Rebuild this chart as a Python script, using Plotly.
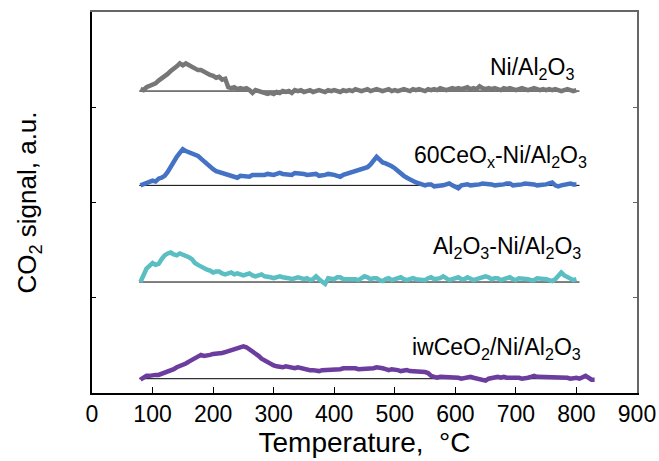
import plotly.graph_objects as go

temps = list(range(80, 805, 5))
temps_iw = list(range(80, 835, 5))

ni_al2o3 = [2, 1, 4, 5, 7, 8, 11, 13, 16, 18, 21, 23, 26, 29, 27, 29, 27, 25, 24, 22,
            22, 20, 19, 17, 16, 14, 15, 12, 13, 4, 3, 4, 2, 3, 2, 3, 1, -2, 1, 0,
            -1, -2, -3, -2, -3, -1, -2, 0, -1, 0, -2, 1, 0, 1, -1, 0, 1, -1, 0, 1,
            0, -1, 1, 0, 1, 0, -1, 1, 0, 1, 0, 2, 1, 0, 1, 2, 0, 1, 2, 1,
            0, 1, 2, 0, 1, 0, 1, 2, 1, 0, 2, 1, 2, 1, 0, 2, 1, 2, 1, 3,
            2, 1, 2, 3, 2, 3, 2, 3, 4, 2, 3, 2, 5, 3, 2, 3, 2, 3, 2, 1,
            3, 2, 3, 2, 1, 2, 3, 2, 1, 2, 3, 2, 1, 2, 1, 2, 1, 2, 1, 0,
            1, 2, 1, 0, 1]
ceox_ni = [0, 1, 2, 3, 5, 4, 7, 8, 10, 14, 20, 25, 30, 34, 38, 36, 35, 34, 33, 31,
           28, 25, 22, 19, 17, 15, 14, 13, 12, 10, 9, 8, 8, 10, 10, 9, 9, 11, 11, 10,
           10, 11, 12, 11, 11, 12, 13, 12, 12, 11, 11, 13, 13, 12, 12, 11, 11, 12, 12, 10,
           10, 11, 12, 12, 11, 10, 9, 11, 12, 12, 13, 14, 15, 16, 17, 19, 22, 26, 30, 27,
           24, 23, 22, 20, 18, 15, 12, 10, 8, 6, 4, 3, 2, 1, 0, 1, 1, -1, -1, 0,
           0, 1, 2, 0, -2, -3, 0, 1, 1, 0, 0, 1, 1, 2, 2, 1, 1, 0, 0, 1,
           1, 2, 2, 0, 0, 1, 1, 2, 2, 1, 1, 0, 0, 1, 1, 2, 3, 0, -1, 0,
           1, 1, 2, 1, 1]
al2o3_ni = [0, 6, 14, 17, 20, 18, 19, 24, 28, 30, 31, 29, 28, 30, 29, 27, 26, 24, 20, 18,
            16, 14, 13, 12, 10, 11, 11, 9, 8, 9, 10, 8, 9, 8, 7, 8, 9, 7, 6, 7,
            8, 6, 6, 5, 4, 5, 6, 5, 5, 4, 3, 4, 5, 4, 3, 4, 2, 3, 6, 3,
            0, -2, 4, 3, 3, 5, 5, 3, 3, 4, 4, 3, 2, 4, 6, 5, 3, 4, 4, 2,
            1, 3, 4, 2, 3, 4, 5, 3, 2, 3, 4, 3, 3, 2, 2, 4, 5, 3, 3, 4,
            6, 4, 2, 3, 4, 5, 3, 3, 5, 4, 2, 3, 4, 4, 6, 5, 3, 4, 4, 2,
            3, 5, 5, 3, 2, 4, 4, 3, 3, 2, 2, 4, 4, 3, 3, 2, 1, 3, 7, 10,
            7, 5, 3, 2, 3]
iwceo2_ni = [-1, 1, 3, 3, 4, 4, 4, 5, 6, 7, 9, 10, 12, 13, 15, 16, 18, 20, 22, 23,
             25, 24, 24, 25, 26, 26, 26, 27, 28, 29, 30, 31, 32, 33, 34, 33, 31, 29, 26, 24,
             21, 19, 17, 16, 14, 13, 12, 12, 13, 12, 11, 11, 12, 11, 10, 10, 9, 9, 8, 8,
             9, 9, 10, 10, 9, 9, 10, 11, 11, 12, 12, 11, 10, 10, 11, 11, 10, 11, 12, 12,
             11, 10, 9, 10, 10, 9, 8, 9, 9, 8, 8, 7, 8, 8, 7, 6, 3, 2, 1, 2,
             2, 1, 1, 2, 2, 1, 0, 1, 2, 2, 1, 0, 0, -1, -2, 0, 1, 1, 2, 1,
             2, 1, 1, 2, 2, 1, 0, 0, 1, 2, 3, 2, 2, 1, 1, 2, 2, 1, 1, 2,
             2, 1, 0, 1, 1, 0, 2, 3, 1, -1, -1]

offsets = [317, 218, 116.5, 15]
names = ["Ni/Al<sub>2</sub>O<sub>3</sub>", "60CeO<sub>x</sub>-Ni/Al<sub>2</sub>O<sub>3</sub>",
         "Al<sub>2</sub>O<sub>3</sub>-Ni/Al<sub>2</sub>O<sub>3</sub>",
         "iwCeO<sub>2</sub>/Ni/Al<sub>2</sub>O<sub>3</sub>"]
colors = ["#777777", "#4472c4", "#5bbec2", "#6c3d9e"]
label_x = [800, 821, 811, 811]
label_y = [341, 248, 153, 47]
baseline_x = [78, 805]

xs = [temps, temps, temps, temps_iw]
ys = [ni_al2o3, ceox_ni, al2o3_ni, iwceo2_ni]
for x, y in zip(xs, ys):
    assert len(x) == len(y), (len(x), len(y))

FONT = "Liberation Sans, Arial, sans-serif"
fig = go.Figure()
for off in offsets:
    fig.add_trace(go.Scatter(x=baseline_x, y=[off, off], mode="lines",
                             line=dict(color="black", width=1), showlegend=False, hoverinfo="skip"))
for x, y, off, c in zip(xs, ys, offsets, colors):
    fig.add_trace(go.Scatter(x=x, y=[v + off for v in y], mode="lines",
                             line=dict(color=c, width=4.5), showlegend=False))
fig.add_trace(go.Scatter(x=[None], y=[None], xaxis="x2", yaxis="y2", showlegend=False))

for t, lx, ly in zip(names, label_x, label_y):
    fig.add_annotation(x=lx, y=ly, text=t, showarrow=False, xanchor="right", yanchor="middle",
                       font=dict(family=FONT, size=23, color="black"))

fig.update_layout(
    width=659, height=461,
    margin=dict(l=92, r=22, t=12, b=68),
    plot_bgcolor="white", paper_bgcolor="white",
    font=dict(family=FONT, color="black"),
    xaxis=dict(range=[0, 900], tickvals=[0, 100, 200, 300, 400, 500, 600, 700, 800, 900],
               ticks="inside", ticklen=6, tickwidth=1, tickcolor="black", automargin=False,
               showline=True, linecolor="black", linewidth=1.5, showgrid=False, zeroline=False,
               tickfont=dict(size=23, family=FONT),
               title=dict(text="Temperature, &nbsp;°C", font=dict(size=28, family=FONT), standoff=6)),
    yaxis=dict(range=[0, 400], tickvals=[100, 200, 300], ticks="inside", ticklen=4,
               tickcolor="black", showticklabels=False, automargin=False,
               showline=True, linecolor="black", linewidth=1.5, showgrid=False, zeroline=False,
               title=dict(text="CO<sub>2</sub> signal, a.u.", font=dict(size=26, family=FONT), standoff=46)),
    xaxis2=dict(overlaying="x", side="top", range=[0, 900], showline=True, linecolor="#666666",
                linewidth=1.5, ticks="", showticklabels=False, showgrid=False, zeroline=False,
                automargin=False),
    yaxis2=dict(overlaying="y", side="right", range=[0, 400], tickvals=[100, 200, 300],
                ticks="inside", ticklen=4, tickcolor="#666666", showticklabels=False, automargin=False,
                showline=True, linecolor="#666666", linewidth=1.5, showgrid=False, zeroline=False),
)

fig.write_html("out.html")
